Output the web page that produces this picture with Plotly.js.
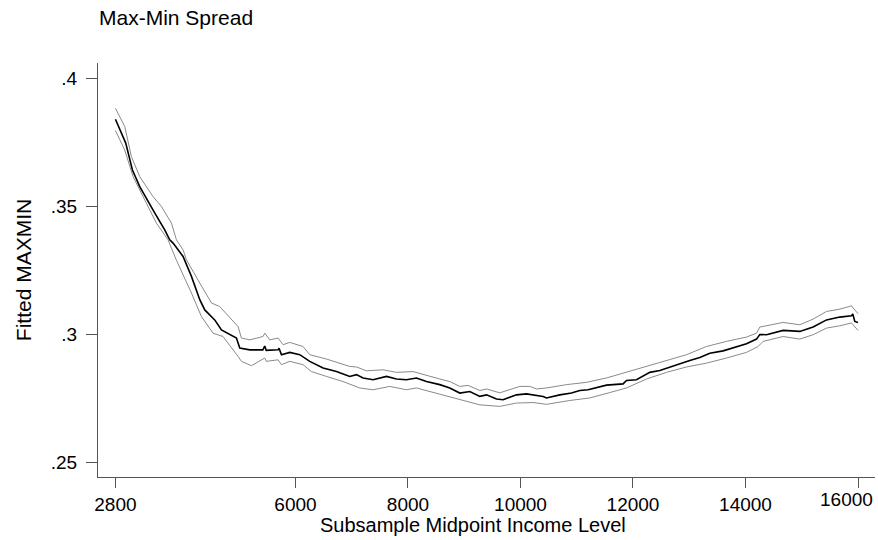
<!DOCTYPE html>
<html>
<head>
<meta charset="utf-8">
<script src="https://cdn.plot.ly/plotly-3.0.1.min.js"></script>
<style>html,body{margin:0;padding:0;background:#fff;}#chart{width:878px;height:540px;}</style>
</head>
<body>
<div id="chart"></div>
<script>
// Fitted line
const xMain = [2800, 2983, 3102, 3232, 3500, 3676, 3765, 3824, 4002, 4151, 4299, 4388, 4565, 4684, 4951, 5010, 5188, 5420, 5454, 5480, 5691, 5708, 5751, 5899, 6076, 6254, 6491, 6729, 6965, 7084, 7202, 7380, 7618, 7796, 7973, 8151, 8329, 8565, 8743, 8921, 9099, 9277, 9396, 9573, 9691, 9929, 10107, 10224, 10402, 10462, 10699, 10907, 11054, 11202, 11410, 11529, 11824, 11884, 12062, 12299, 12477, 12773, 13010, 13188, 13366, 13602, 13780, 14018, 14196, 14254, 14373, 14669, 14965, 15202, 15440, 15676, 15884, 15907, 15943, 16000];
const yMain = [0.3841, 0.3748, 0.3643, 0.3578, 0.3474, 0.3409, 0.3370, 0.3357, 0.3305, 0.3227, 0.3136, 0.3096, 0.3057, 0.3018, 0.2986, 0.2947, 0.2940, 0.2940, 0.2955, 0.2938, 0.2940, 0.2946, 0.2921, 0.2930, 0.2921, 0.2895, 0.2869, 0.2855, 0.2836, 0.2843, 0.2830, 0.2823, 0.2836, 0.2826, 0.2823, 0.2830, 0.2816, 0.2804, 0.2791, 0.2771, 0.2777, 0.2758, 0.2764, 0.2748, 0.2745, 0.2764, 0.2768, 0.2764, 0.2758, 0.2752, 0.2764, 0.2771, 0.2781, 0.2784, 0.2795, 0.2802, 0.2807, 0.2820, 0.2823, 0.2852, 0.2859, 0.2882, 0.2898, 0.2910, 0.2927, 0.2936, 0.2947, 0.2964, 0.2982, 0.3000, 0.2999, 0.3016, 0.3012, 0.3029, 0.3057, 0.3068, 0.3073, 0.3080, 0.3051, 0.3047];

// Upper band
const xUp = [2800, 2965, 3084, 3232, 3468, 3618, 3796, 3884, 4002, 4062, 4299, 4507, 4654, 4862, 4980, 5040, 5188, 5424, 5454, 5543, 5691, 5780, 5899, 6135, 6254, 6551, 6788, 6965, 7084, 7262, 7557, 7796, 8091, 8329, 8565, 8743, 8921, 9069, 9277, 9396, 9632, 9988, 10165, 10285, 10462, 10818, 11173, 11529, 11884, 12240, 12596, 12951, 13307, 13662, 14018, 14196, 14254, 14669, 14965, 15202, 15440, 15676, 15884, 16000];
const yUp = [0.3884, 0.3813, 0.3695, 0.3617, 0.3539, 0.3500, 0.3435, 0.3370, 0.3331, 0.3292, 0.3201, 0.3123, 0.3109, 0.3057, 0.3031, 0.2986, 0.2979, 0.2992, 0.3005, 0.2979, 0.2986, 0.2960, 0.2969, 0.2953, 0.2921, 0.2904, 0.2886, 0.2875, 0.2873, 0.2858, 0.2862, 0.2852, 0.2855, 0.2839, 0.2826, 0.2816, 0.2797, 0.2801, 0.2781, 0.2787, 0.2772, 0.2797, 0.2797, 0.2787, 0.2791, 0.2804, 0.2813, 0.2830, 0.2852, 0.2875, 0.2898, 0.2921, 0.2953, 0.2973, 0.2990, 0.3005, 0.3029, 0.3047, 0.3038, 0.3060, 0.3090, 0.3099, 0.3112, 0.3081];

// Lower band
const xLo = [2800, 2965, 3113, 3291, 3529, 3735, 3884, 4151, 4329, 4535, 4713, 4980, 5040, 5218, 5454, 5480, 5691, 5751, 5899, 6135, 6284, 6551, 6847, 7143, 7380, 7676, 7973, 8151, 8388, 8624, 8921, 9277, 9632, 9929, 10224, 10462, 10877, 11232, 11588, 11884, 12240, 12596, 12951, 13307, 13662, 14018, 14224, 14313, 14669, 14965, 15202, 15440, 15676, 15884, 16000];
const yLo = [0.3797, 0.3721, 0.3617, 0.3539, 0.3435, 0.3370, 0.3290, 0.3162, 0.3070, 0.3005, 0.2992, 0.2914, 0.2895, 0.2878, 0.2908, 0.2895, 0.2901, 0.2882, 0.2895, 0.2882, 0.2855, 0.2836, 0.2816, 0.2791, 0.2784, 0.2797, 0.2784, 0.2791, 0.2777, 0.2764, 0.2745, 0.2725, 0.2719, 0.2732, 0.2734, 0.2727, 0.2742, 0.2752, 0.2773, 0.2791, 0.2826, 0.2852, 0.2873, 0.2888, 0.2908, 0.2930, 0.2953, 0.2973, 0.2992, 0.2982, 0.2999, 0.3025, 0.3034, 0.3045, 0.3016];

const xTicks = [2800, 6000, 8000, 10000, 12000, 14000, 16000];
const xTickText = ['2800', '6000', '8000', '10000', '12000', '14000', '16000'];
const yTicks = [0.25, 0.3, 0.35, 0.4];
const yTickText = ['.25', '.3', '.35', '.4'];

const FONT = 'Liberation Sans, Arial, Helvetica, sans-serif';
const lastTick = xTicks.length - 1;

const traces = [
  {x: xUp, y: yUp, type: 'scatter', mode: 'lines', line: {color: '#8a8a8a', width: 1}, hoverinfo: 'skip'},
  {x: xLo, y: yLo, type: 'scatter', mode: 'lines', line: {color: '#8a8a8a', width: 1}, hoverinfo: 'skip'},
  {x: xMain, y: yMain, type: 'scatter', mode: 'lines', line: {color: '#000000', width: 1.6}}
];

const layout = {
  width: 878, height: 540,
  margin: {l: 98, r: 3, t: 63, b: 63},
  paper_bgcolor: '#ffffff', plot_bgcolor: '#ffffff',
  showlegend: false,
  font: {family: FONT, color: '#000', size: 18},
  title: {text: 'Max-Min Spread', x: 99/878, xref: 'container', xanchor: 'left',
          y: 1 - 18/540, yref: 'container', yanchor: 'middle',
          font: {family: FONT, size: 21, color: '#000'}},
  xaxis: {
    range: [2490, 16302], tickvals: xTicks,
    // the last label is drawn as an annotation pulled inside the page edge
    ticktext: xTickText.map((t, i) => i === lastTick ? '' : t),
    showgrid: false, zeroline: false, showline: true, linecolor: '#555', linewidth: 1,
    ticks: 'outside', ticklen: 10, tickcolor: '#555', tickwidth: 1,
    tickfont: {family: FONT, size: 19, color: '#000'}
  },
  yaxis: {
    range: [0.2443, 0.4061], tickvals: yTicks, ticktext: yTickText,
    showgrid: false, zeroline: false, showline: true, linecolor: '#555', linewidth: 1,
    ticks: 'outside', ticklen: 11, tickcolor: '#555', tickwidth: 1,
    ticklabelstandoff: 5,
    tickfont: {family: FONT, size: 19, color: '#000'},
    title: {text: 'Fitted MAXMIN', standoff: 13, font: {family: FONT, size: 21, color: '#000'}}
  },
  annotations: [
    {
      text: xTickText[lastTick], xref: 'x', yref: 'paper',
      x: xTicks[lastTick], y: 0, yshift: -22, xshift: -12,
      xanchor: 'center', yanchor: 'middle',
      showarrow: false, font: {family: FONT, size: 19, color: '#000'}
    },
    {
      text: 'Subsample Midpoint Income Level', xref: 'paper', yref: 'paper',
      x: (473 - 98) / 777, y: (477 - 525) / 414, xanchor: 'center', yanchor: 'middle',
      showarrow: false, font: {family: FONT, size: 20, color: '#000'}
    }
  ]
};

Plotly.newPlot('chart', traces, layout, {displayModeBar: false, staticPlot: true});
</script>
</body>
</html>
